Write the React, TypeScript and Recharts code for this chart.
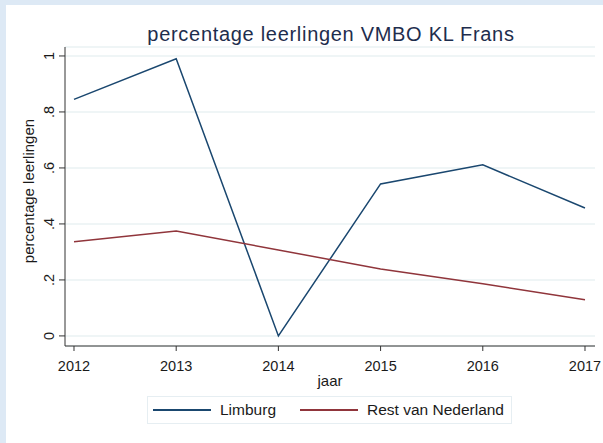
import React from 'react';
import { LineChart, Line, XAxis, YAxis, CartesianGrid, Legend, Label } from 'recharts';

// values
const years = [2012, 2013, 2014, 2015, 2016, 2017];
const limburg = [0.845, 0.99, 0.0, 0.543, 0.611, 0.457];
const restVanNederland = [0.336, 0.375, 0.307, 0.239, 0.186, 0.129];
const yTicks = [0, 0.2, 0.4, 0.6, 0.8, 1];
const yTickLabels = ['0', '.2', '.4', '.6', '.8', '1'];

const series = [
  { key: 'limburg', name: 'Limburg', color: '#1a476f' },
  { key: 'rest', name: 'Rest van Nederland', color: '#90353b' },
];

const data = years.map((year, i) => ({
  year,
  limburg: limburg[i],
  rest: restVanNederland[i],
}));

const FONT = '"Liberation Sans", Arial, sans-serif';
const TEXT = '#1a1a1a';

function XTick({ x, y, payload }: any) {
  return (
    <text x={x} y={y} dy={18} textAnchor="middle" fontSize={14.5} fontFamily={FONT} fill={TEXT}>
      {payload.value}
    </text>
  );
}

function YTick({ x, y, payload }: any) {
  const idx = yTicks.indexOf(payload.value);
  const bx = x - 3;
  return (
    <text
      x={bx}
      y={y}
      transform={`rotate(-90, ${bx}, ${y})`}
      textAnchor="middle"
      fontSize={14.5}
      fontFamily={FONT}
      fill={TEXT}
    >
      {idx >= 0 ? yTickLabels[idx] : payload.value}
    </text>
  );
}

function LegendBox() {
  return (
    <div
      style={{
        position: 'absolute',
        left: 0,
        top: 0,
        width: 365,
        height: 28,
        boxSizing: 'border-box',
        border: '1px solid #e6eef2',
        background: '#fff',
        fontFamily: FONT,
        fontSize: 15.5,
        color: TEXT,
      }}
    >
      {series.map((s, i) => (
        <div
          key={s.key}
          style={{ position: 'absolute', left: i === 0 ? 5 : 152, top: 0, display: 'flex', alignItems: 'center', height: 26 }}
        >
          <div style={{ width: 58, height: 2, background: s.color }} />
          <span style={{ marginLeft: 9, whiteSpace: 'nowrap' }}>{s.name}</span>
        </div>
      ))}
    </div>
  );
}

export default function App() {
  return (
    <div style={{ position: 'absolute', left: 0, top: 0, width: 603, height: 443, background: '#dde9f5' }}>
      <div style={{ position: 'absolute', left: 6, top: 5, width: 597, height: 438, background: '#fff' }}>
        <div
          style={{
            position: 'absolute',
            left: 125,
            top: 19,
            width: 400,
            textAlign: 'center',
            fontFamily: FONT,
            fontSize: 20,
            letterSpacing: 0.7,
            lineHeight: '20px',
            color: '#1e2d4d',
            whiteSpace: 'nowrap',
          }}
        >
          percentage leerlingen VMBO KL Frans
        </div>
        <LineChart width={597} height={438} data={data} margin={{ top: 42, right: 8, bottom: 67, left: 0 }}>
          <CartesianGrid vertical={false} stroke="#eaf2f3" strokeWidth={1.5} />
          <XAxis
            dataKey="year"
            type="number"
            domain={[2011.912, 2017.098]}
            allowDataOverflow
            ticks={years}
            height={30}
            tickSize={5}
            tick={<XTick />}
            axisLine={{ stroke: '#333' }}
            tickLine={{ stroke: '#333' }}
          >
            <Label
              content={({ viewBox }: any) => (
                <text
                  x={viewBox.x + viewBox.width / 2}
                  y={viewBox.y + 40}
                  textAnchor="middle"
                  fontSize={15}
                  fontFamily={FONT}
                  fill={TEXT}
                >
                  jaar
                </text>
              )}
            />
          </XAxis>
          <YAxis
            type="number"
            domain={[-0.036, 1.032]}
            allowDataOverflow
            ticks={yTicks}
            width={59}
            tickSize={6}
            tick={<YTick />}
            axisLine={{ stroke: '#333' }}
            tickLine={{ stroke: '#333' }}
          >
            <Label
              content={() => (
                <text
                  x={28}
                  y={186}
                  transform="rotate(-90, 28, 186)"
                  textAnchor="middle"
                  fontSize={15}
                  fontFamily={FONT}
                  fill={TEXT}
                >
                  percentage leerlingen
                </text>
              )}
            />
          </YAxis>
          <Legend
            content={() => <LegendBox />}
            wrapperStyle={{ left: 141, top: 391, width: 365, height: 0, overflow: 'visible' }}
          />
          {series.map((s) => (
            <Line
              key={s.key}
              type="linear"
              dataKey={s.key}
              name={s.name}
              stroke={s.color}
              strokeWidth={1.5}
              dot={false}
              activeDot={false}
              isAnimationActive={false}
            />
          ))}
        </LineChart>
      </div>
    </div>
  );
}
